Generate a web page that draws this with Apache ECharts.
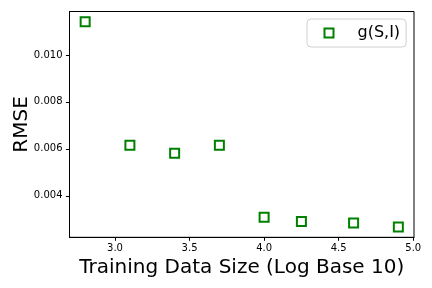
<!DOCTYPE html>
<html>
<head>
<meta charset="utf-8">
<script src="https://cdn.jsdelivr.net/npm/echarts@6/dist/echarts.min.js"></script>
<style>html,body{margin:0;padding:0;background:#fff}#c{width:432px;height:288px}</style>
</head>
<body>
<div id="c"></div>
<script>
var sizes = [2.8, 3.1, 3.4, 3.7, 4.0, 4.25, 4.6, 4.9];
var rmse = [0.01141, 0.00615, 0.00581, 0.00615, 0.00309, 0.00291, 0.00284, 0.00267];
var xTicks = [3.0, 3.5, 4.0, 4.5, 5.0];
var yTicks = [0.004, 0.006, 0.008, 0.010];
var seriesName = 'g(S,I)';

var data = sizes.map(function (s, i) { return [s, rmse[i]]; });
var font = 'DejaVu Sans';
var chart = echarts.init(document.getElementById('c'), null, {renderer: 'canvas'});
chart.setOption({
  animation: false,
  backgroundColor: '#fff',
  grid: {left: 69.5, right: 18, top: 11.5, bottom: 50.7, containLabel: false, outerBoundsMode: 'none',
    show: true, borderColor: '#000', borderWidth: 1, backgroundColor: 'transparent'},
  legend: {
    left: 307, top: 19,
    padding: [6, 6, 6, 16.5],
    backgroundColor: '#fff',
    borderColor: '#d0d0d0', borderWidth: 1, borderRadius: 4,
    itemWidth: 9, itemHeight: 9,
    icon: 'rect',
    itemStyle: {color: 'rgba(0,0,0,0)', borderColor: '#008000', borderWidth: 2},
    textStyle: {fontFamily: font, fontSize: 16, color: '#000', padding: [0, 0, 0, 19]},
    data: [seriesName]
  },
  xAxis: {
    type: 'value', min: 2.695, max: 5.005,
    name: 'Training Data Size (Log Base 10)', nameLocation: 'middle', nameGap: 20, nameMoveOverlap: false,
    nameTextStyle: {fontFamily: font, fontSize: 20, color: '#000'},
    axisLine: {show: true, lineStyle: {color: '#000', width: 1}},
    axisTick: {show: true, length: 3.5, lineStyle: {color: '#000'}, customValues: xTicks},
    axisLabel: {fontFamily: font, fontSize: 10, color: '#000', margin: 6, customValues: xTicks,
      formatter: function (v) { return v.toFixed(1); }},
    splitLine: {show: false}
  },
  yAxis: {
    type: 'value', min: 0.002233, max: 0.01185,
    name: 'RMSE', nameLocation: 'middle', nameGap: 38, nameRotate: 90, nameMoveOverlap: false,
    nameTextStyle: {fontFamily: font, fontSize: 20, color: '#000'},
    axisLine: {show: true, lineStyle: {color: '#000', width: 1}},
    axisTick: {show: true, length: 3.5, lineStyle: {color: '#000'}, customValues: yTicks},
    axisLabel: {fontFamily: font, fontSize: 10, color: '#000', margin: 7, customValues: yTicks,
      formatter: function (v) { return v.toFixed(3); }},
    splitLine: {show: false}
  },
  series: [{
    name: seriesName, type: 'scatter', data: data,
    symbol: 'rect', symbolSize: 9,
    itemStyle: {color: 'rgba(0,0,0,0)', borderColor: '#008000', borderWidth: 2, opacity: 1}
  }]
});
</script>
</body>
</html>
